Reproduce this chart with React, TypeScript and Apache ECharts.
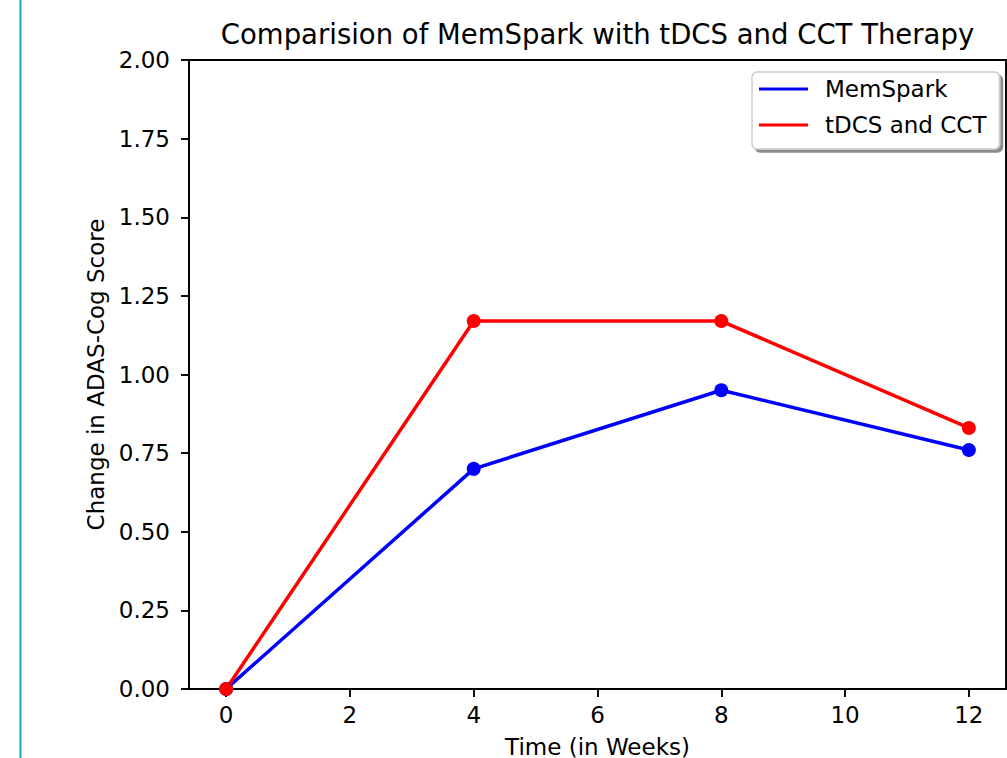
import React, { useEffect, useRef } from "react";
import * as echarts from "echarts";

const weeks = [0, 4, 8, 12];
const memSpark = [0, 0.7, 0.95, 0.76];
const tdcsCct = [0, 1.17, 1.17, 0.83];
const xTickValues = [0, 2, 4, 6, 8, 10, 12];
const seriesNames = ["MemSpark", "tDCS and CCT"];
const titleText = "Comparision of MemSpark with tDCS and CCT Therapy";
const xAxisTitle = "Time (in Weeks)";
const yAxisTitle = "Change in ADAS-Cog Score";

const FONT = "'DejaVu Sans', sans-serif";

export default function App() {
  const ref = useRef<HTMLDivElement>(null);
  useEffect(() => {
    if (!ref.current) return;
    const chart = echarts.init(ref.current, undefined, { renderer: "svg" });
    const toPairs = (ys: number[]) => weeks.map((w, i) => [w, ys[i]]);
    chart.setOption({
      animation: false,
      backgroundColor: "#ffffff",
      textStyle: { fontFamily: FONT },
      graphic: [
        {
          type: "line",
          shape: { x1: 20.5, y1: 0, x2: 20.5, y2: 758 },
          style: { stroke: "#17abb6", lineWidth: 2 },
          silent: true,
        },
        {
          type: "text",
          x: 597.5,
          y: 34,
          style: {
            text: titleText,
            fontFamily: FONT,
            fontSize: 27.5,
            fill: "#000000",
            textAlign: "center",
            textVerticalAlign: "middle",
          },
          silent: true,
        },
      ],
      grid: {
        left: 189,
        right: 1,
        top: 60,
        bottom: 69,
        show: true,
        borderColor: "#000000",
        borderWidth: 1.9,
        backgroundColor: "transparent",
        containLabel: false,
        outerBoundsMode: "none",
      },
      legend: {
        orient: "vertical",
        left: 752,
        top: 72,
        icon: "rect",
        itemWidth: 49,
        itemHeight: 3,
        itemGap: 10,
        padding: [4, 13, 11, 7],
        backgroundColor: "#ffffff",
        borderColor: "#cccccc",
        borderWidth: 1.5,
        borderRadius: 5,
        shadowColor: "rgba(0,0,0,0.45)",
        shadowBlur: 0,
        shadowOffsetX: 3,
        shadowOffsetY: 3,
        textStyle: {
          fontFamily: FONT,
          fontSize: 23,
          color: "#000000",
          lineHeight: 26,
          padding: [0, 0, 0, 12],
        },
        data: seriesNames,
      },
      xAxis: {
        type: "value",
        min: -0.6,
        max: 12.6,
        name: xAxisTitle,
        nameLocation: "middle",
        nameGap: 46,
        nameTextStyle: { fontFamily: FONT, fontSize: 23, color: "#000000" },
        axisLine: { show: true, onZero: false, lineStyle: { color: "#000000", width: 1.9 } },
        axisTick: {
          show: true,
          length: 8,
          customValues: xTickValues,
          lineStyle: { color: "#000000", width: 1.9 },
        },
        axisLabel: {
          customValues: xTickValues,
          margin: 14,
          fontFamily: FONT,
          fontSize: 23,
          color: "#000000",
          formatter: (v: number) => String(v),
        },
        splitLine: { show: false },
      },
      yAxis: {
        type: "value",
        min: 0,
        max: 2,
        interval: 0.25,
        name: yAxisTitle,
        nameLocation: "middle",
        nameGap: 79,
        nameRotate: 90,
        nameTextStyle: { fontFamily: FONT, fontSize: 23, color: "#000000" },
        axisLine: { show: true, onZero: false, lineStyle: { color: "#000000", width: 1.9 } },
        axisTick: { show: true, length: 8, lineStyle: { color: "#000000", width: 1.9 } },
        axisLabel: {
          margin: 19,
          fontFamily: FONT,
          fontSize: 23,
          color: "#000000",
          formatter: (v: number) => v.toFixed(2),
        },
        splitLine: { show: false },
      },
      series: [
        {
          name: seriesNames[0],
          type: "line",
          data: toPairs(memSpark),
          color: "#0000ff",
          symbol: "circle",
          symbolSize: 14,
          lineStyle: { width: 3.5, color: "#0000ff" },
          itemStyle: { color: "#0000ff" },
        },
        {
          name: seriesNames[1],
          type: "line",
          data: toPairs(tdcsCct),
          color: "#ff0000",
          symbol: "circle",
          symbolSize: 14,
          lineStyle: { width: 3.5, color: "#ff0000" },
          itemStyle: { color: "#ff0000" },
        },
      ],
    });
    return () => chart.dispose();
  }, []);
  return (
    <div
      ref={ref}
      style={{ position: "fixed", left: 0, top: 0, width: 1007, height: 758 }}
    />
  );
}
